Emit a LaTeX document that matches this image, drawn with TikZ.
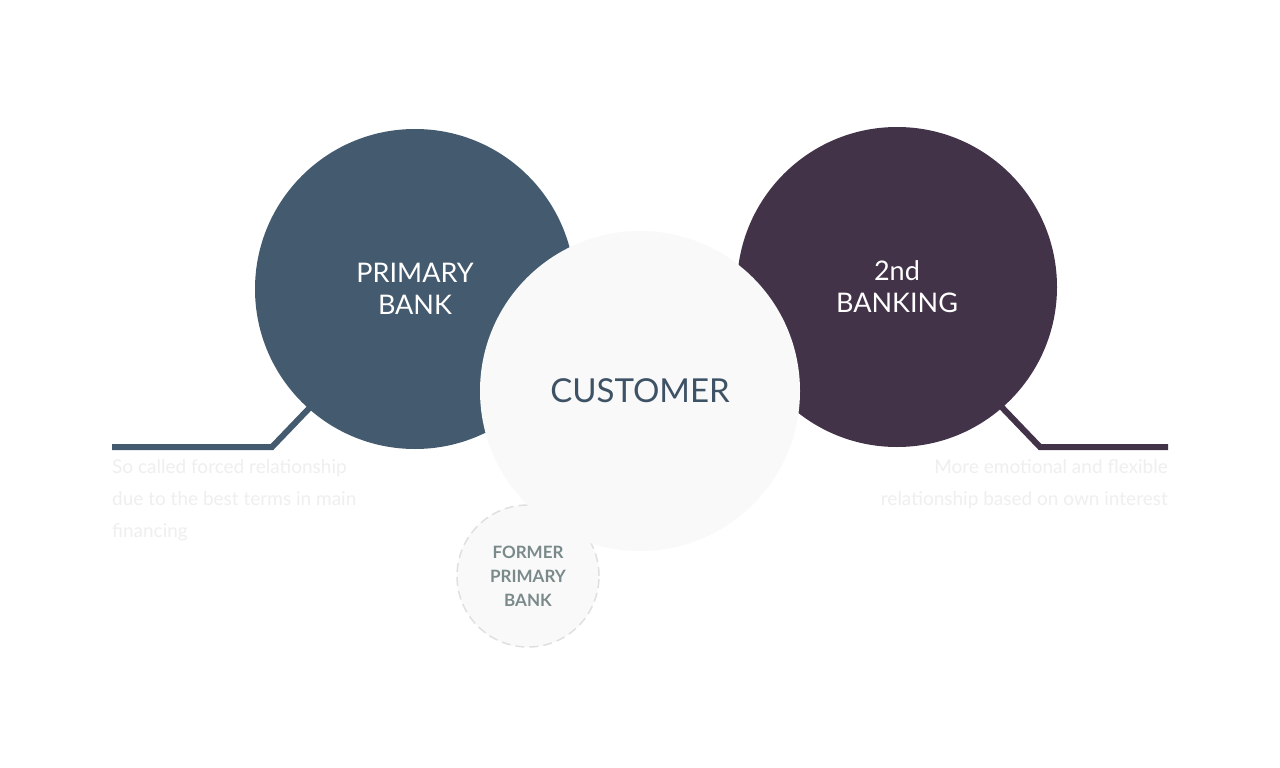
\documentclass[tikz,border=0pt]{standalone}
\usepackage{fontspec}
\setmainfont{Lato}
\definecolor{pb}{HTML}{445A6E}
\definecolor{sb}{HTML}{423349}
\definecolor{cu}{HTML}{F9F9F9}
\definecolor{cut}{HTML}{3E5266}
\definecolor{fo}{HTML}{7A8A8A}
\definecolor{faint}{HTML}{EFEFEF}
\begin{document}
\begin{tikzpicture}[x=1pt,y=-1pt,
  big/.style={circle,minimum size=320pt,inner sep=0pt,align=center},
  desc/.style={text=faint,font=\fontsize{19}{32}\selectfont,inner sep=0pt}]
\useasboundingbox[fill=white] (0,0) rectangle (1280,768);
\coordinate (l1) at (112,447); \coordinate (l2) at (272,447); \coordinate (l3) at (320,397);
\coordinate (r1) at (1168,447); \coordinate (r2) at (1040,447); \coordinate (r3) at (992,397);
\draw[pb,line width=6pt] (l1) -- (l2) -- (l3);
\draw[sb,line width=6pt] (r1) -- (r2) -- (r3);
\node[big,fill=pb,text=white,font=\fontsize{27}{32}\selectfont] (p) at (415,289) {PRIMARY\\BANK};
\node[big,fill=sb,text=white,font=\fontsize{27}{32}\selectfont] (s) at (897,287) {2nd\\BANKING};
\node[circle,minimum size=142pt,fill=cu,draw=black!12,dashed,dash pattern=on 9pt off 5pt,line width=1.5pt,text=fo,font=\bfseries\fontsize{17}{24}\selectfont,align=center] (f) at (528,576) {FORMER\\PRIMARY\\BANK};
\node[big,fill=cu,text=cut,font=\fontsize{33}{36}\selectfont] (c) at (640,391) {CUSTOMER};
\node[desc,anchor=north west,align=left] (dl) at (112,459) {So called forced relationship\\due to the best terms in main\\financing};
\node[desc,anchor=north east,align=right] (dr) at (1168,459) {More emotional and flexible\\relationship based on own interest};
\end{tikzpicture}
\end{document}
